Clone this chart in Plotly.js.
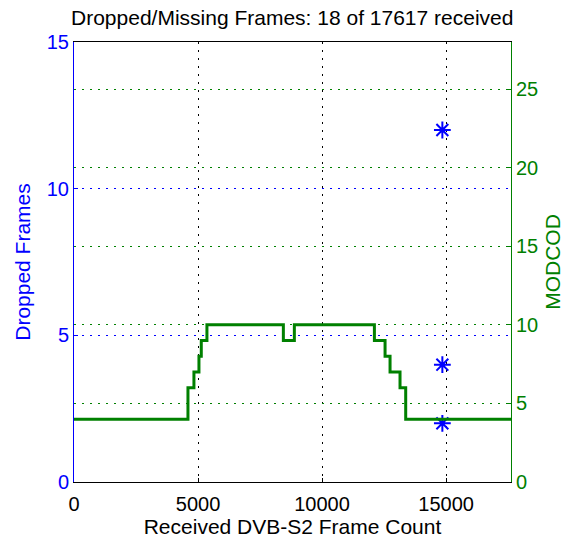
<!DOCTYPE html>
<html>
<head>
<meta charset="utf-8">
<script src="https://cdn.plot.ly/plotly-3.0.1.min.js"></script>
<style>html,body{margin:0;padding:0;background:#fff;}#chart{width:573px;height:542px;}</style>
</head>
<body>
<div id="chart"></div>
<script>
// Dropped frames (left axis)
const dropX = [14850, 14850, 14850];
const dropY = [12, 4, 2];
// MODCOD steps (right axis)
const modX = [0, 4594, 4835, 5037, 5131, 5359, 8440, 8883, 12110, 12540, 12741, 13143, 13372, 17617];
const modY = [4, 6, 7, 8, 9, 10, 9, 10, 9, 8, 7, 6, 4, 4];
const xTicks = [0, 5000, 10000, 15000];
const leftTicks = [0, 5, 10, 15];
const rightTicks = [0, 5, 10, 15, 20, 25];

const FONT = 'Liberation Sans, Arial, sans-serif';
const DASH = '2px,6px';
const traces = [
  {x: modX, y: modY, yaxis: 'y2', type: 'scatter', mode: 'lines', line: {shape: 'hv', color: '#008000', width: 3}, hoverinfo: 'none'},
  {x: dropX, y: dropY, type: 'scatter', mode: 'markers', marker: {symbol: 'asterisk-open', size: 14, color: '#0000ff', line: {color: '#0000ff', width: 2}}}
];
const layout = {
  width: 573, height: 542,
  margin: {l: 74, r: 62, t: 42, b: 60},
  paper_bgcolor: '#fff', plot_bgcolor: '#fff',
  showlegend: false,
  font: {family: FONT, size: 20, color: '#000'},
  title: {text: 'Dropped/Missing Frames: 18 of 17617 received', font: {family: FONT, size: 21, color: '#000'}, x: 0.51, xanchor: 'center', y: 0.967, yanchor: 'middle'},
  xaxis: {
    range: [0, 17617], tickvals: xTicks, ticktext: xTicks.map(String),
    showgrid: true, gridcolor: '#000', griddash: DASH, gridwidth: 1,
    showline: true, linecolor: '#000', linewidth: 1, mirror: true,
    ticks: 'inside', ticklen: 4, tickcolor: '#000', zeroline: false,
    ticklabelstandoff: 4,
    tickfont: {family: FONT, size: 20, color: '#000'},
    title: {text: 'Received DVB-S2 Frame Count', font: {family: FONT, size: 21, color: '#000'}, standoff: 4}
  },
  yaxis: {
    range: [0, 15], tickvals: leftTicks, ticktext: leftTicks.map(String),
    showgrid: true, gridcolor: '#0000ff', griddash: DASH, gridwidth: 1,
    showline: true, linecolor: '#0000ff', linewidth: 1,
    ticks: 'inside', ticklen: 4, tickcolor: '#0000ff', zeroline: false,
    tickfont: {family: FONT, size: 20, color: '#0000ff'},
    title: {text: 'Dropped Frames', font: {family: FONT, size: 21, color: '#0000ff'}, standoff: 10}
  },
  yaxis2: {
    range: [0, 28], tickvals: rightTicks, ticktext: rightTicks.map(String),
    overlaying: 'y', side: 'right',
    showgrid: true, gridcolor: '#008000', griddash: DASH, gridwidth: 1,
    showline: true, linecolor: '#008000', linewidth: 1,
    ticks: 'inside', ticklen: 4, tickcolor: '#008000', zeroline: false,
    tickfont: {family: FONT, size: 20, color: '#008000'},
    title: {text: 'MODCOD', font: {family: FONT, size: 21, color: '#008000'}, standoff: 8}
  }
};
Plotly.newPlot('chart', traces, layout, {displayModeBar: false, staticPlot: true});
</script>
</body>
</html>
